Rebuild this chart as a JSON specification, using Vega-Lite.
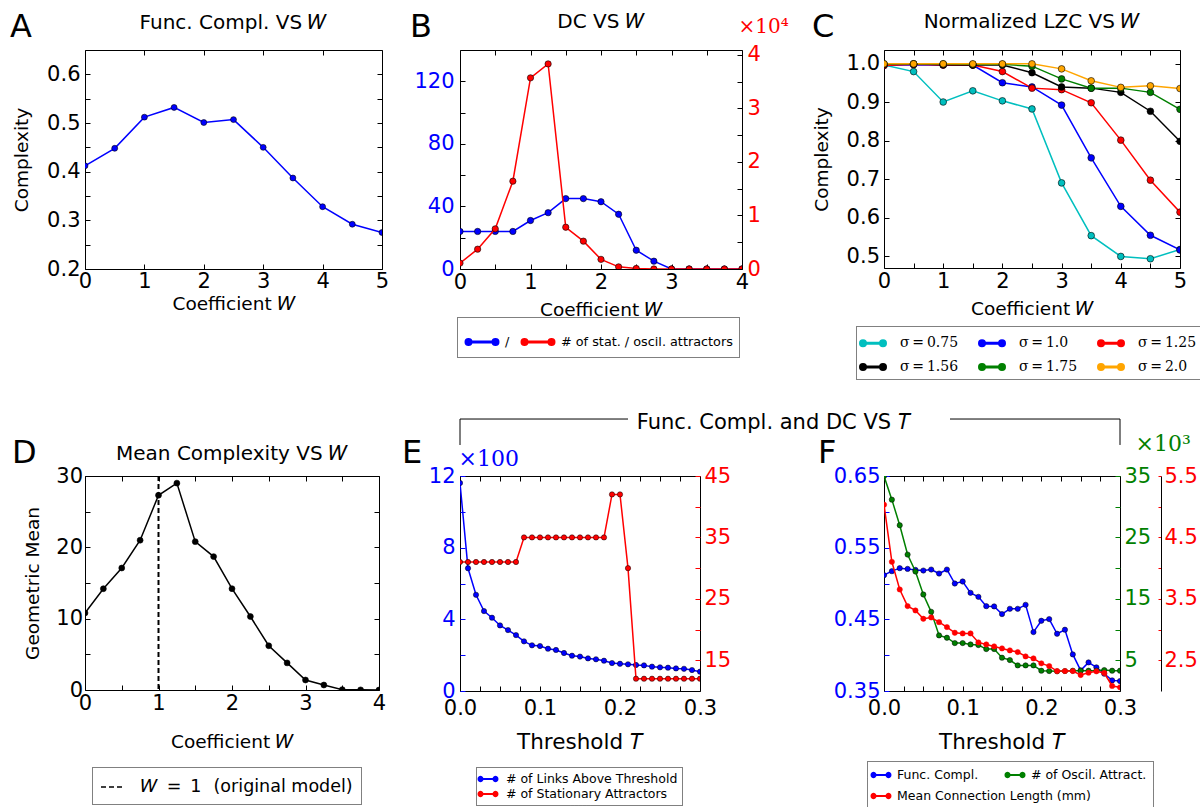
{
"$schema":"https://vega.github.io/schema/vega-lite/v6.json",
"background":"white",
"padding":{"left":0,"top":11,"right":0,"bottom":0},
"config":{
 "font":"DejaVu Sans",
 "view":{"stroke":"black","strokeWidth":1},
 "axis":{"labelFont":"DejaVu Sans","labelFontSize":21,"labelColor":"black","titleFont":"DejaVu Sans","titleFontSize":18.5,"titleFontWeight":"normal","titleColor":"black","grid":false,"domain":false,"tickColor":"black","tickSize":-5,"tickWidth":1,"labelPadding":10,"labelFlush":false,"labelOverlap":false},
 "title":{"font":"DejaVu Sans","fontSize":20,"fontWeight":"normal","color":"black"},
 "legend":{"labelFont":"DejaVu Sans","labelFontSize":12.5,"labelColor":"black","strokeColor":"black","strokeDash":[1,1],"strokeWidth":1,"fillColor":"white","padding":6,"cornerRadius":0,"labelLimit":400}
},
"columns":6,
"spacing":{"row":207,"column":0},
"bounds":"flush",
"align":"each",
"resolve":{"scale":{"color":"independent","strokeDash":"independent","stroke":"independent"},"legend":{"color":"independent","strokeDash":"independent","stroke":"independent"}},
"concat":[
 {"width":85,"height":219,"view":{"stroke":null},"data":{"values":[]},"mark":"point","title":{"text":"A","anchor":"start","frame":"group","dx":10,"fontSize":32,"offset":6}},
 {"width":297,"height":219,
  "title":{"text":"Func. Compl. VS \ud835\udc4a","offset":17},
  "data":{"values":[{"W":0,"C":0.412},{"W":0.5,"C":0.448},{"W":1,"C":0.512},{"W":1.5,"C":0.532},{"W":2,"C":0.501},{"W":2.5,"C":0.507},{"W":3,"C":0.450},{"W":3.5,"C":0.387},{"W":4,"C":0.328},{"W":4.5,"C":0.292},{"W":5,"C":0.275}]},
  "layer":[
   {"mark":{"type":"line","color":"#0000ff","strokeWidth":1.5,"clip":true,"point":{"filled":true,"fill":"#0000ff","stroke":"black","strokeWidth":0.6,"size":35}},
    "encoding":{
     "x":{"field":"W","type":"quantitative","scale":{"domain":[0,5],"nice":false,"zero":false},"axis":{"orient":"bottom","values":[0,1,2,3,4,5],"format":"d","title":"Coefficient \ud835\udc4a","labelPadding":6,"minExtent":20,"maxExtent":20,"titlePadding":5}},
     "y":{"field":"C","type":"quantitative","scale":{"domain":[0.2,0.65],"nice":false,"zero":false},"axis":{"orient":"left","values":[0.2,0.25,0.3,0.35,0.4,0.45,0.5,0.55,0.6],"labelExpr":"abs(datum.value*10-round(datum.value*10))<0.001 ? format(datum.value,'.1f') : ''","title":"Complexity","labelPadding":10,"minExtent":38,"maxExtent":38,"titlePadding":16}}}},
   {"mark":{"type":"point","opacity":0},
    "encoding":{
     "x":{"field":"W","type":"quantitative","scale":{"domain":[0,5],"nice":false,"zero":false},"axis":{"orient":"top","values":[0,1,2,3,4,5],"labels":false,"title":null}},
     "y":{"field":"C","type":"quantitative","scale":{"domain":[0.2,0.65],"nice":false,"zero":false},"axis":{"orient":"right","values":[0.2,0.25,0.3,0.35,0.4,0.45,0.5,0.55,0.6],"labels":false,"title":null}}}}
  ],
  "resolve":{"scale":{"x":"independent","y":"independent"}}
 },
 {"width":78,"height":219,"view":{"stroke":null},"data":{"values":[]},"mark":"point","title":{"text":"B","anchor":"start","frame":"group","dx":28,"fontSize":32,"offset":6}},
 {"width":282,"height":219,
  "title":{"text":"DC VS \ud835\udc4a","offset":-16},
  "data":{"values":[{"W":0,"S":24,"O":0.11},{"W":0.25,"S":24,"O":0.37},{"W":0.5,"S":24,"O":0.75},{"W":0.75,"S":24,"O":1.64},{"W":1,"S":31,"O":3.57},{"W":1.25,"S":36,"O":3.83},{"W":1.5,"S":45,"O":0.78},{"W":1.75,"S":45,"O":0.52},{"W":2,"S":43,"O":0.18},{"W":2.25,"S":35,"O":0.04},{"W":2.5,"S":12,"O":0.01},{"W":2.75,"S":5,"O":0},{"W":3,"S":0,"O":0},{"W":3.25,"S":0,"O":0},{"W":3.5,"S":0,"O":0},{"W":3.75,"S":0,"O":0},{"W":4,"S":0,"O":0}]},
  "layer":[
   {"mark":{"type":"line","strokeWidth":1.5,"clip":true,"point":{"filled":true,"stroke":"black","strokeWidth":0.6,"size":40}},
    "encoding":{
     "x":{"field":"W","type":"quantitative","scale":{"domain":[0,4],"nice":false,"zero":false},"axis":{"orient":"bottom","values":[0,0.5,1,1.5,2,2.5,3,3.5,4],"labelExpr":"datum.value%1==0 ? format(datum.value,'d') : ''","title":"Coefficient \ud835\udc4a","labelPadding":7,"minExtent":20,"maxExtent":20,"titlePadding":11}},
     "y":{"field":"S","type":"quantitative","scale":{"domain":[0,140],"nice":false,"zero":false},"axis":{"orient":"left","values":[0,20,40,60,80,100,120],"labelExpr":"datum.value%40==0 ? datum.label : ''","labelColor":"#0000ff","title":null,"labelPadding":11}},
     "color":{"datum":"/","type":"nominal","scale":{"domain":["/","\u00a0\u00a0\u00a0\u00a0# of stat. / oscil. attractors"],"range":["#0000ff","#ff0000"]},
      "legend":{"orient":"none","legendX":-3,"legendY":267,"title":null,"direction":"horizontal","columns":2,"gridAlign":"none","labelFont":"DejaVu Sans","labelFontSize":12.8,"symbolType":"M-0.771,0L0.771,0M-0.914,0A0.143,0.143,0,1,0,-0.628,0A0.143,0.143,0,1,0,-0.914,0ZM0.628,0A0.143,0.143,0,1,0,0.914,0A0.143,0.143,0,1,0,0.628,0Z","symbolSize":1225,"labelOffset":4,"columnPadding":6,"padding":6,
       "encode":{"symbols":{"update":{"fill":{"signal":"['#0000ff','#ff0000'][datum.index]"},"stroke":{"signal":"['#0000ff','#ff0000'][datum.index]"},"strokeWidth":{"value":3},"opacity":{"value":1}}}}}}}},
   {"mark":{"type":"line","strokeWidth":1.5,"clip":true,"point":{"filled":true,"stroke":"black","strokeWidth":0.6,"size":40}},
    "encoding":{
     "x":{"field":"W","type":"quantitative","scale":{"domain":[0,4],"nice":false,"zero":false},"axis":{"orient":"top","values":[0,0.5,1,1.5,2,2.5,3,3.5,4],"labels":false,"title":null}},
     "y":{"field":"O","type":"quantitative","scale":{"domain":[0,4.09],"nice":false,"zero":false},"axis":{"orient":"right","values":[0,0.5,1,1.5,2,2.5,3,3.5,4],"labelExpr":"datum.value%1==0 ? format(datum.value,'d') : ''","labelColor":"#ff0000","labelPadding":10,"title":"\u00d710\u2074","titleAngle":0,"titleX":-4,"titleY":-18,"titleAlign":"left","titleBaseline":"alphabetic","titleFont":"DejaVu Serif","titleFontSize":20,"titleColor":"#ff0000"}},
     "color":{"datum":"\u00a0\u00a0\u00a0\u00a0# of stat. / oscil. attractors","type":"nominal"}}}
  ],
  "resolve":{"scale":{"x":"independent","y":"independent"}}
 },
 {"width":142,"height":219,"view":{"stroke":null},"data":{"values":[]},"mark":"point","title":{"text":"C","anchor":"start","frame":"group","dx":70,"fontSize":32,"offset":6}},
 {"width":296,"height":218,
  "title":{"text":"Normalized LZC VS \ud835\udc4a","offset":18},
  "data":{"values":[
   {"W":0,"s":"σ\u2009=\u20090.75","v":0.997},{"W":0.5,"s":"σ\u2009=\u20090.75","v":0.980},{"W":1,"s":"σ\u2009=\u20090.75","v":0.901},{"W":1.5,"s":"σ\u2009=\u20090.75","v":0.930},{"W":2,"s":"σ\u2009=\u20090.75","v":0.904},{"W":2.5,"s":"σ\u2009=\u20090.75","v":0.883},{"W":3,"s":"σ\u2009=\u20090.75","v":0.691},{"W":3.5,"s":"σ\u2009=\u20090.75","v":0.554},{"W":4,"s":"σ\u2009=\u20090.75","v":0.500},{"W":4.5,"s":"σ\u2009=\u20090.75","v":0.494},{"W":5,"s":"σ\u2009=\u20090.75","v":0.518},
   {"W":0,"s":"σ\u2009=\u20091.0","v":0.996},{"W":0.5,"s":"σ\u2009=\u20091.0","v":0.998},{"W":1,"s":"σ\u2009=\u20091.0","v":0.997},{"W":1.5,"s":"σ\u2009=\u20091.0","v":0.997},{"W":2,"s":"σ\u2009=\u20091.0","v":0.951},{"W":2.5,"s":"σ\u2009=\u20091.0","v":0.940},{"W":3,"s":"σ\u2009=\u20091.0","v":0.893},{"W":3.5,"s":"σ\u2009=\u20091.0","v":0.756},{"W":4,"s":"σ\u2009=\u20091.0","v":0.630},{"W":4.5,"s":"σ\u2009=\u20091.0","v":0.555},{"W":5,"s":"σ\u2009=\u20091.0","v":0.517},
   {"W":0,"s":"σ\u2009=\u20091.25","v":0.996},{"W":0.5,"s":"σ\u2009=\u20091.25","v":0.999},{"W":1,"s":"σ\u2009=\u20091.25","v":0.997},{"W":1.5,"s":"σ\u2009=\u20091.25","v":0.997},{"W":2,"s":"σ\u2009=\u20091.25","v":0.980},{"W":2.5,"s":"σ\u2009=\u20091.25","v":0.937},{"W":3,"s":"σ\u2009=\u20091.25","v":0.933},{"W":3.5,"s":"σ\u2009=\u20091.25","v":0.899},{"W":4,"s":"σ\u2009=\u20091.25","v":0.802},{"W":4.5,"s":"σ\u2009=\u20091.25","v":0.698},{"W":5,"s":"σ\u2009=\u20091.25","v":0.615},
   {"W":0,"s":"σ\u2009=\u20091.56","v":0.999},{"W":0.5,"s":"σ\u2009=\u20091.56","v":1.000},{"W":1,"s":"σ\u2009=\u20091.56","v":0.998},{"W":1.5,"s":"σ\u2009=\u20091.56","v":0.997},{"W":2,"s":"σ\u2009=\u20091.56","v":0.997},{"W":2.5,"s":"σ\u2009=\u20091.56","v":0.977},{"W":3,"s":"σ\u2009=\u20091.56","v":0.940},{"W":3.5,"s":"σ\u2009=\u20091.56","v":0.937},{"W":4,"s":"σ\u2009=\u20091.56","v":0.926},{"W":4.5,"s":"σ\u2009=\u20091.56","v":0.877},{"W":5,"s":"σ\u2009=\u20091.56","v":0.799},
   {"W":0,"s":"σ\u2009=\u20091.75","v":1.000},{"W":0.5,"s":"σ\u2009=\u20091.75","v":1.000},{"W":1,"s":"σ\u2009=\u20091.75","v":1.000},{"W":1.5,"s":"σ\u2009=\u20091.75","v":0.999},{"W":2,"s":"σ\u2009=\u20091.75","v":0.999},{"W":2.5,"s":"σ\u2009=\u20091.75","v":0.994},{"W":3,"s":"σ\u2009=\u20091.75","v":0.961},{"W":3.5,"s":"σ\u2009=\u20091.75","v":0.937},{"W":4,"s":"σ\u2009=\u20091.75","v":0.937},{"W":4.5,"s":"σ\u2009=\u20091.75","v":0.926},{"W":5,"s":"σ\u2009=\u20091.75","v":0.882},
   {"W":0,"s":"σ\u2009=\u20092.0","v":1.000},{"W":0.5,"s":"σ\u2009=\u20092.0","v":1.000},{"W":1,"s":"σ\u2009=\u20092.0","v":1.000},{"W":1.5,"s":"σ\u2009=\u20092.0","v":1.000},{"W":2,"s":"σ\u2009=\u20092.0","v":1.000},{"W":2.5,"s":"σ\u2009=\u20092.0","v":1.000},{"W":3,"s":"σ\u2009=\u20092.0","v":0.987},{"W":3.5,"s":"σ\u2009=\u20092.0","v":0.956},{"W":4,"s":"σ\u2009=\u20092.0","v":0.939},{"W":4.5,"s":"σ\u2009=\u20092.0","v":0.943},{"W":5,"s":"σ\u2009=\u20092.0","v":0.936}
  ]},
  "layer":[
   {"mark":{"type":"line","strokeWidth":1.5,"clip":true,"point":{"filled":true,"stroke":"black","strokeWidth":0.6,"size":45}},
    "encoding":{
     "x":{"field":"W","type":"quantitative","scale":{"domain":[0,5],"nice":false,"zero":false},"axis":{"orient":"bottom","values":[0,0.5,1,1.5,2,2.5,3,3.5,4,4.5,5],"labelExpr":"datum.value%1==0 ? format(datum.value,'d') : ''","title":"Coefficient \ud835\udc4a","labelPadding":7,"minExtent":20,"maxExtent":20,"titlePadding":11}},
     "y":{"field":"v","type":"quantitative","scale":{"domain":[0.47,1.036],"nice":false,"zero":false},"axis":{"orient":"left","values":[0.5,0.6,0.7,0.8,0.9,1.0],"format":".1f","title":"Complexity","labelPadding":9.5,"minExtent":38,"maxExtent":38,"titlePadding":15}},
     "color":{"field":"s","type":"nominal","sort":null,"scale":{"domain":["σ\u2009=\u20090.75","σ\u2009=\u20091.0","σ\u2009=\u20091.25","σ\u2009=\u20091.56","σ\u2009=\u20091.75","σ\u2009=\u20092.0"],"range":["#00bfbf","#0000ff","#ff0000","#000000","#008000","#ffa500"]},
      "legend":{"orient":"none","legendX":-28,"legendY":276,"title":null,"direction":"horizontal","columns":3,"symbolType":"M-0.8,0L0.8,0M-1,0A0.2,0.2,0,1,0,-0.6,0A0.2,0.2,0,1,0,-1,0ZM0.6,0A0.2,0.2,0,1,0,1,0A0.2,0.2,0,1,0,0.6,0Z","symbolSize":625,"labelFont":"DejaVu Serif","labelFontSize":14,"labelOffset":13,"columnPadding":14,"rowPadding":1,"padding":3,
       "encode":{"symbols":{"update":{"fill":{"signal":"['#00bfbf','#0000ff','#ff0000','#000000','#008000','#ffa500'][datum.index]"},"stroke":{"signal":"['#00bfbf','#0000ff','#ff0000','#000000','#008000','#ffa500'][datum.index]"},"strokeWidth":{"value":3},"opacity":{"value":1}}}}}}}},
   {"mark":{"type":"point","opacity":0},
    "encoding":{
     "x":{"field":"W","type":"quantitative","scale":{"domain":[0,5],"nice":false,"zero":false},"axis":{"orient":"top","values":[0,0.5,1,1.5,2,2.5,3,3.5,4,4.5,5],"labels":false,"title":null}},
     "y":{"field":"v","type":"quantitative","scale":{"domain":[0.47,1.036],"nice":false,"zero":false},"axis":{"orient":"right","values":[0.5,0.6,0.7,0.8,0.9,1.0],"labels":false,"title":null}}}}
  ],
  "resolve":{"scale":{"x":"independent","y":"independent"}}
 },
 {"width":85,"height":215,"view":{"stroke":null},"data":{"values":[]},"mark":"point","title":{"text":"D","anchor":"start","frame":"group","dx":12,"fontSize":32,"offset":6}},
 {"width":294,"height":214,
  "title":{"text":"Mean Complexity VS \ud835\udc4a","offset":1},
  "data":{"values":[{"W":0,"G":10.8},{"W":0.25,"G":14.2},{"W":0.5,"G":17.1},{"W":0.75,"G":21.0},{"W":1,"G":27.3},{"W":1.25,"G":29.0},{"W":1.5,"G":20.8},{"W":1.75,"G":18.7},{"W":2,"G":14.2},{"W":2.25,"G":10.3},{"W":2.5,"G":6.2},{"W":2.75,"G":3.8},{"W":3,"G":1.4},{"W":3.25,"G":0.7},{"W":3.5,"G":0.05},{"W":3.75,"G":0.02},{"W":4,"G":0}]},
  "layer":[
   {"mark":{"type":"line","color":"black","strokeWidth":1.5,"clip":true,"point":{"filled":true,"fill":"black","stroke":"black","strokeWidth":0.6,"size":35}},
    "encoding":{
     "x":{"field":"W","type":"quantitative","scale":{"domain":[0,4],"nice":false,"zero":false},"axis":{"orient":"bottom","values":[0,0.5,1,1.5,2,2.5,3,3.5,4],"labelExpr":"datum.value%1==0 ? format(datum.value,'d') : ''","title":"Coefficient \ud835\udc4a","labelPadding":7,"minExtent":20,"maxExtent":20,"titlePadding":22}},
     "y":{"field":"G","type":"quantitative","scale":{"domain":[0,30],"nice":false,"zero":false},"axis":{"orient":"left","values":[0,5,10,15,20,25,30],"labelExpr":"datum.value%10==0 ? datum.label : ''","title":"Geometric Mean","labelPadding":7.5,"minExtent":29,"maxExtent":29,"titlePadding":14}}}},
   {"transform":[{"filter":"datum.W == 1"}],
    "mark":{"type":"rule","color":"black","strokeWidth":2},
    "encoding":{
     "x":{"datum":1,"type":"quantitative","scale":{"domain":[0,4],"nice":false,"zero":false},"axis":null},
     "strokeDash":{"datum":"\ud835\udc4a\u2002=\u20021\u2002\u2009(original model)","type":"nominal","scale":{"range":[[5,3]]},
      "legend":{"orient":"none","legendX":7,"legendY":291,"title":null,"symbolType":"stroke","symbolSize":484,"labelFont":"DejaVu Sans","labelFontSize":17.5,"labelOffset":17,"padding":8,
       "encode":{"symbols":{"update":{"stroke":{"value":"black"},"strokeWidth":{"value":2}}}}}}}},
   {"mark":{"type":"point","opacity":0},
    "encoding":{
     "x":{"field":"W","type":"quantitative","scale":{"domain":[0,4],"nice":false,"zero":false},"axis":{"orient":"top","values":[0,0.5,1,1.5,2,2.5,3,3.5,4],"labels":false,"title":null}},
     "y":{"field":"G","type":"quantitative","scale":{"domain":[0,30],"nice":false,"zero":false},"axis":{"orient":"right","values":[0,5,10,15,20,25,30],"labels":false,"title":null}}}}
  ],
  "resolve":{"scale":{"x":"independent","y":"independent"}}
 },
 {"width":78,"height":215,"view":{"stroke":null},"data":{"values":[]},"mark":"point","title":{"text":"E","anchor":"start","frame":"group","dx":20,"fontSize":32,"offset":6}},
 {"width":240,"height":215,
  "data":{"values":[{"T":0,"L":11.61,"S":31},{"T":0.01,"L":6.85,"S":31},{"T":0.02,"L":5.37,"S":31},{"T":0.03,"L":4.46,"S":31},{"T":0.04,"L":4.09,"S":31},{"T":0.05,"L":3.66,"S":31},{"T":0.06,"L":3.40,"S":31},{"T":0.07,"L":3.12,"S":31},{"T":0.08,"L":2.77,"S":35},{"T":0.09,"L":2.55,"S":35},{"T":0.1,"L":2.51,"S":35},{"T":0.11,"L":2.36,"S":35},{"T":0.12,"L":2.29,"S":35},{"T":0.13,"L":2.12,"S":35},{"T":0.14,"L":1.97,"S":35},{"T":0.15,"L":1.92,"S":35},{"T":0.16,"L":1.82,"S":35},{"T":0.17,"L":1.77,"S":35},{"T":0.18,"L":1.69,"S":35},{"T":0.19,"L":1.56,"S":42},{"T":0.2,"L":1.52,"S":42},{"T":0.21,"L":1.49,"S":30},{"T":0.22,"L":1.45,"S":12},{"T":0.23,"L":1.43,"S":12},{"T":0.24,"L":1.36,"S":12},{"T":0.25,"L":1.32,"S":12},{"T":0.26,"L":1.30,"S":12},{"T":0.27,"L":1.26,"S":12},{"T":0.28,"L":1.24,"S":12},{"T":0.29,"L":1.17,"S":12},{"T":0.3,"L":1.08,"S":12}]},
  "layer":[
   {"mark":{"type":"line","strokeWidth":1.5,"clip":true,"point":{"filled":true,"stroke":"black","strokeWidth":0.5,"size":28}},
    "encoding":{
     "x":{"field":"T","type":"quantitative","scale":{"domain":[0,0.3],"nice":false,"zero":false},"axis":{"orient":"bottom","values":[0,0.025,0.05,0.075,0.1,0.125,0.15,0.175,0.2,0.225,0.25,0.275,0.3],"labelExpr":"abs(datum.value*10-round(datum.value*10))<0.001 ? format(datum.value,'.1f') : ''","title":"Threshold \ud835\udc47","titleFontSize":21.5,"labelPadding":11,"minExtent":22,"maxExtent":22,"titlePadding":18}},
     "y":{"field":"L","type":"quantitative","scale":{"domain":[0,12],"nice":false,"zero":false},"axis":{"orient":"left","values":[0,2,4,6,8,10,12],"labelExpr":"datum.value%4==0 ? datum.label : ''","labelColor":"#0000ff","tickColor":"#0000ff","labelPadding":10,"title":"\u00d7100","titleAngle":0,"titleX":-2,"titleY":-11,"titleAlign":"left","titleBaseline":"alphabetic","titleFont":"DejaVu Serif","titleFontSize":22,"titleColor":"#0000ff"}},
     "color":{"datum":"# of Links Above Threshold","type":"nominal","scale":{"domain":["# of Links Above Threshold","# of Stationary Attractors"],"range":["#0000ff","#ff0000"]},
      "legend":{"orient":"none","legendX":16,"legendY":291,"title":null,"direction":"vertical","labelFont":"DejaVu Sans","labelFontSize":12.5,"symbolType":"M-1.071,0L1.071,0M-1.357,0A0.286,0.286,0,1,0,-0.786,0A0.286,0.286,0,1,0,-1.357,0ZM0.786,0A0.286,0.286,0,1,0,1.357,0A0.286,0.286,0,1,0,0.786,0Z","symbolSize":196,"labelOffset":10,"rowPadding":0,"padding":4,
       "encode":{"symbols":{"update":{"fill":{"signal":"['#0000ff','#ff0000'][datum.index]"},"stroke":{"signal":"['#0000ff','#ff0000'][datum.index]"},"strokeWidth":{"value":2},"opacity":{"value":1}}}}}}}},
   {"mark":{"type":"line","strokeWidth":1.5,"clip":true,"point":{"filled":true,"stroke":"black","strokeWidth":0.5,"size":28}},
    "encoding":{
     "x":{"field":"T","type":"quantitative","scale":{"domain":[0,0.3],"nice":false,"zero":false},"axis":{"orient":"top","values":[0,0.025,0.05,0.075,0.1,0.125,0.15,0.175,0.2,0.225,0.25,0.275,0.3],"labels":false,"title":null}},
     "y":{"field":"S","type":"quantitative","scale":{"domain":[10,45],"nice":false,"zero":false},"axis":{"orient":"right","values":[15,20,25,30,35,40,45],"labelExpr":"(datum.value-15)%10==0 ? datum.label : ''","labelColor":"#ff0000","tickColor":"#ff0000","labelPadding":9,"title":null}},
     "color":{"datum":"# of Stationary Attractors","type":"nominal"}}},
   {"transform":[{"filter":"datum.T == 0"}],
    "mark":{"type":"rule","color":"black","strokeWidth":1},
    "encoding":{
     "x":{"datum":0,"type":"quantitative","scale":{"domain":[0,0.3],"nice":false,"zero":false},"axis":null},
     "y":{"datum":13.73,"type":"quantitative","scale":{"domain":[0,12],"nice":false,"zero":false},"axis":null},
     "y2":{"datum":15.18}}},
   {"transform":[{"filter":"datum.T == 0"}],
    "mark":{"type":"rule","color":"black","strokeWidth":1},
    "encoding":{
     "x":{"datum":0,"type":"quantitative","scale":{"domain":[0,0.3],"nice":false,"zero":false},"axis":null},
     "x2":{"datum":0.21},
     "y":{"datum":15.18,"type":"quantitative","scale":{"domain":[0,12],"nice":false,"zero":false},"axis":null}}},
   {"transform":[{"filter":"datum.T == 0"}],
    "mark":{"type":"text","text":"Func. Compl. and DC VS \ud835\udc47","fontSize":21,"align":"left","baseline":"alphabetic","font":"DejaVu Sans"},
    "encoding":{
     "x":{"datum":0.221,"type":"quantitative","scale":{"domain":[0,0.3],"nice":false,"zero":false},"axis":null},
     "y":{"datum":14.62,"type":"quantitative","scale":{"domain":[0,12],"nice":false,"zero":false},"axis":null}}}
  ],
  "resolve":{"scale":{"x":"independent","y":"independent"}}
 },
 {"width":142,"height":215,"view":{"stroke":null},"data":{"values":[]},"mark":"point","title":{"text":"F","anchor":"start","frame":"group","dx":76,"fontSize":32,"offset":6}},
 {"width":236,"height":215,
  "data":{"values":[{"T":0,"fc":0.5116,"osc":35.0,"mcl":5.034},{"T":0.01,"fc":0.5172,"osc":31.15,"mcl":4.103},{"T":0.02,"fc":0.5214,"osc":26.98,"mcl":3.653},{"T":0.03,"fc":0.5204,"osc":22.21,"mcl":3.382},{"T":0.04,"fc":0.5190,"osc":19.45,"mcl":3.311},{"T":0.05,"fc":0.5181,"osc":15.71,"mcl":3.176},{"T":0.06,"fc":0.5195,"osc":12.89,"mcl":3.197},{"T":0.07,"fc":0.5139,"osc":9.05,"mcl":3.121},{"T":0.08,"fc":0.5195,"osc":8.67,"mcl":3.040},{"T":0.09,"fc":0.5000,"osc":7.80,"mcl":2.948},{"T":0.1,"fc":0.5028,"osc":7.80,"mcl":2.937},{"T":0.11,"fc":0.4870,"osc":7.58,"mcl":2.937},{"T":0.12,"fc":0.4814,"osc":7.48,"mcl":2.791},{"T":0.13,"fc":0.4684,"osc":6.83,"mcl":2.758},{"T":0.14,"fc":0.4680,"osc":6.83,"mcl":2.726},{"T":0.15,"fc":0.4573,"osc":5.42,"mcl":2.693},{"T":0.16,"fc":0.4647,"osc":5.04,"mcl":2.661},{"T":0.17,"fc":0.4647,"osc":4.17,"mcl":2.634},{"T":0.18,"fc":0.4703,"osc":4.17,"mcl":2.563},{"T":0.19,"fc":0.4322,"osc":4.17,"mcl":2.531},{"T":0.2,"fc":0.4480,"osc":3.30,"mcl":2.450},{"T":0.21,"fc":0.4503,"osc":3.25,"mcl":2.406},{"T":0.22,"fc":0.4299,"osc":3.20,"mcl":2.325},{"T":0.23,"fc":0.4355,"osc":3.25,"mcl":2.325},{"T":0.24,"fc":0.4011,"osc":3.30,"mcl":2.325},{"T":0.25,"fc":0.3788,"osc":3.30,"mcl":2.260},{"T":0.26,"fc":0.3899,"osc":3.30,"mcl":2.298},{"T":0.27,"fc":0.3830,"osc":3.30,"mcl":2.320},{"T":0.28,"fc":0.3741,"osc":3.41,"mcl":2.293},{"T":0.29,"fc":0.3648,"osc":3.30,"mcl":2.082},{"T":0.3,"fc":0.3639,"osc":3.30,"mcl":2.060}]},
  "layer":[
   {"mark":{"type":"line","strokeWidth":1.5,"clip":true,"point":{"filled":true,"stroke":"black","strokeWidth":0.5,"size":28}},
    "encoding":{
     "x":{"field":"T","type":"quantitative","scale":{"domain":[0,0.3],"nice":false,"zero":false},"axis":{"orient":"bottom","values":[0,0.025,0.05,0.075,0.1,0.125,0.15,0.175,0.2,0.225,0.25,0.275,0.3],"labelExpr":"abs(datum.value*10-round(datum.value*10))<0.001 ? format(datum.value,'.1f') : ''","title":"Threshold \ud835\udc47","titleFontSize":21.5,"labelPadding":11,"minExtent":22,"maxExtent":22,"titlePadding":18}},
     "y":{"field":"fc","type":"quantitative","scale":{"domain":[0.35,0.65],"nice":false,"zero":false},"axis":{"orient":"left","values":[0.35,0.4,0.45,0.5,0.55,0.6,0.65],"labelExpr":"abs((datum.value-0.35)*10-round((datum.value-0.35)*10))<0.001 ? format(datum.value,'.2f') : ''","labelColor":"#0000ff","tickColor":"#0000ff","labelPadding":9,"title":null}},
     "color":{"datum":"Func. Compl.","type":"nominal","scale":{"domain":["Func. Compl.","# of Oscil. Attract."],"range":["#0000ff","#008000"]},
      "legend":{"orient":"none","legendX":-17,"legendY":285,"title":"\u00a0","titleOrient":"bottom","titleFontSize":13,"titlePadding":6,"direction":"horizontal","columns":2,"gridAlign":"none","labelFont":"DejaVu Sans","labelFontSize":12.5,"symbolType":"M-1.071,0L1.071,0M-1.357,0A0.286,0.286,0,1,0,-0.786,0A0.286,0.286,0,1,0,-1.357,0ZM0.786,0A0.286,0.286,0,1,0,1.357,0A0.286,0.286,0,1,0,0.786,0Z","symbolSize":196,"labelOffset":8,"columnPadding":22,"padding":6,
       "encode":{"symbols":{"update":{"fill":{"signal":"['#0000ff','#008000'][datum.index]"},"stroke":{"signal":"['#0000ff','#008000'][datum.index]"},"strokeWidth":{"value":2},"opacity":{"value":1}}}}}}}},
   {"mark":{"type":"line","strokeWidth":1.5,"clip":true,"point":{"filled":true,"stroke":"black","strokeWidth":0.5,"size":28}},
    "encoding":{
     "x":{"field":"T","type":"quantitative","scale":{"domain":[0,0.3],"nice":false,"zero":false},"axis":{"orient":"top","values":[0,0.025,0.05,0.075,0.1,0.125,0.15,0.175,0.2,0.225,0.25,0.275,0.3],"labels":false,"title":null}},
     "y":{"field":"osc","type":"quantitative","scale":{"domain":[0,35],"nice":false,"zero":false},"axis":{"orient":"right","values":[5,10,15,20,25,30,35],"labelExpr":"(datum.value-5)%10==0 ? datum.label : ''","labelColor":"#008000","tickColor":"#008000","labelPadding":9,"title":"\u00d710\u00b3","titleAngle":0,"titleX":15,"titleY":-26,"titleAlign":"left","titleBaseline":"alphabetic","titleFont":"DejaVu Serif","titleFontSize":22,"titleColor":"#008000"}},
     "color":{"datum":"# of Oscil. Attract.","type":"nominal"}}},
   {"mark":{"type":"line","strokeWidth":1.5,"clip":true,"point":{"filled":true,"fill":"#ff0000","strokeWidth":0.5,"size":28}},
    "encoding":{
     "x":{"field":"T","type":"quantitative","scale":{"domain":[0,0.3],"nice":false,"zero":false},"axis":null},
     "y":{"field":"mcl","type":"quantitative","scale":{"domain":[2.0,5.5],"nice":false,"zero":false},"axis":{"orient":"right","offset":41,"domain":true,"domainColor":"black","values":[2.5,3,3.5,4,4.5,5,5.5],"labelExpr":"round(datum.value*2)%2==1 ? format(datum.value,'.1f') : ''","labelColor":"#ff0000","tickColor":"#ff0000","tickSize":-3,"labelPadding":6,"title":null}},
     "stroke":{"datum":"Mean Connection Length (mm)","type":"nominal","scale":{"range":["#ff0000"]},
      "legend":{"orient":"none","legendX":-17,"legendY":306,"title":null,"strokeColor":"transparent","fillColor":"transparent","labelFont":"DejaVu Sans","labelFontSize":12.5,"symbolType":"M-1.071,0L1.071,0M-1.357,0A0.286,0.286,0,1,0,-0.786,0A0.286,0.286,0,1,0,-1.357,0ZM0.786,0A0.286,0.286,0,1,0,1.357,0A0.286,0.286,0,1,0,0.786,0Z","symbolSize":196,"labelOffset":8,"padding":6,
       "encode":{"symbols":{"update":{"fill":{"value":"#ff0000"},"stroke":{"value":"#ff0000"},"strokeWidth":{"value":2},"opacity":{"value":1}}}}}}}},
   {"transform":[{"filter":"datum.T == 0"}],
    "mark":{"type":"rule","color":"black","strokeWidth":1},
    "encoding":{
     "x":{"datum":0.0839,"type":"quantitative","scale":{"domain":[0,0.3],"nice":false,"zero":false},"axis":null},
     "x2":{"datum":0.3},
     "y":{"datum":0.7295,"type":"quantitative","scale":{"domain":[0.35,0.65],"nice":false,"zero":false},"axis":null}}},
   {"transform":[{"filter":"datum.T == 0"}],
    "mark":{"type":"rule","color":"black","strokeWidth":1},
    "encoding":{
     "x":{"datum":0.3,"type":"quantitative","scale":{"domain":[0,0.3],"nice":false,"zero":false},"axis":null},
     "y":{"datum":0.6933,"type":"quantitative","scale":{"domain":[0.35,0.65],"nice":false,"zero":false},"axis":null},
     "y2":{"datum":0.7295}}}
  ],
  "resolve":{"scale":{"x":"independent","y":"independent"}}
 }
]
}
